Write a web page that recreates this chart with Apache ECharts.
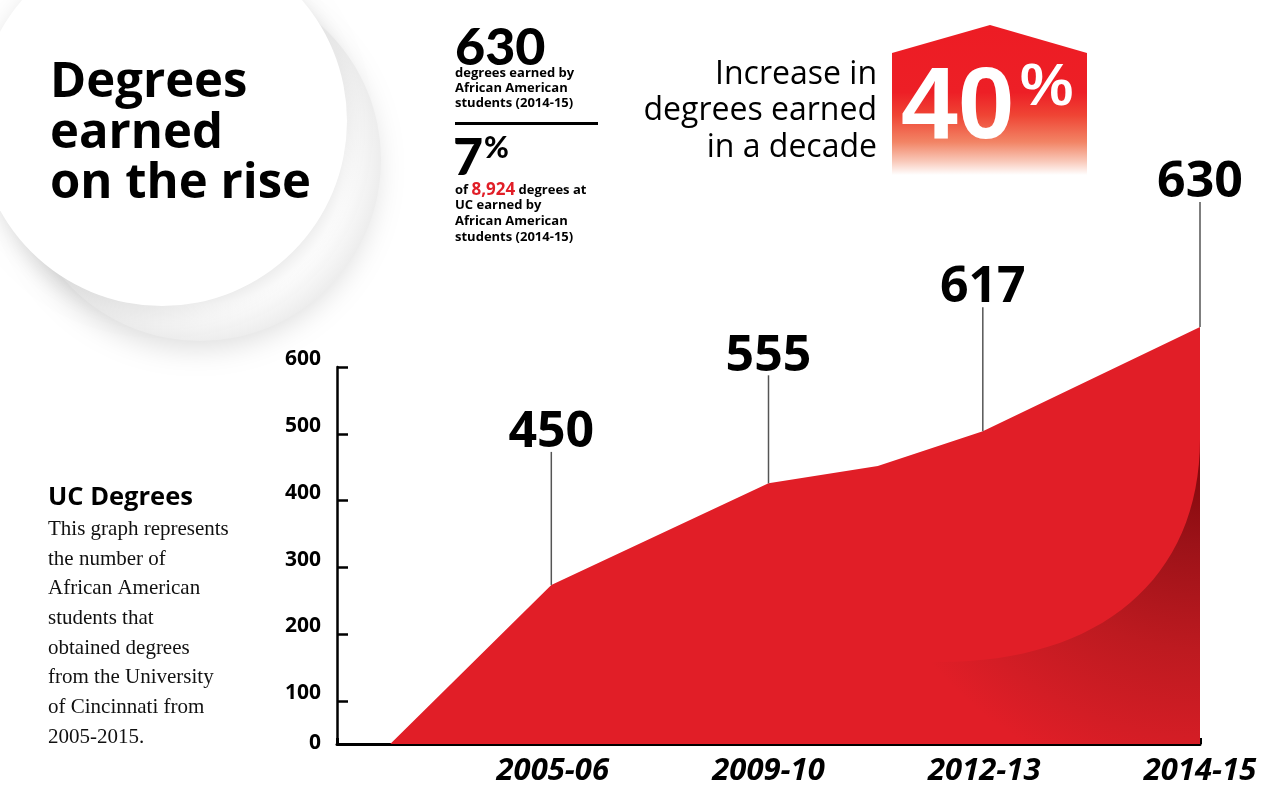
<!DOCTYPE html>
<html><head><meta charset="utf-8">
<script src="https://cdn.jsdelivr.net/npm/echarts@6/dist/echarts.min.js"></script>
<style>html,body{margin:0;padding:0;background:#fff}#c{width:1280px;height:805px}</style>
</head><body><div id="c"></div>
<script>
// ---------------- data ----------------
const yearLabels = ['2005-06', '2009-10', '2012-13', '2014-15'];
const yearPos = [1.5, 3, 4.5, 6];                 // x position of each year label
const areaX = [0.37, 1.49, 3, 3.76, 4.49, 6];     // outline of the red area (x)
const areaY = [36, 274, 426, 452, 504, 660];      // outline of the red area (axis units)
const labeledPoint = [1, 2, 4, 5];                // area vertices carrying a callout
const degreeLabels = [450, 555, 617, 630];        // callout numbers
const yTickValues = [100, 200, 300, 400, 500, 600];
const yLabelValues = [36, 100, 200, 300, 400, 500, 600];
const yLabelText = ['0', '100', '200', '300', '400', '500', '600'];

// ---------------- styles ----------------
const RED = '#E11E27';
const LEADER = [133, 108, 124, 125];
const chart = echarts.init(document.getElementById('c'), null, {renderer: 'canvas'});

const areaData = areaX.map((x, i) => [x, areaY[i]]);
const calloutData = labeledPoint.map((p, k) => [areaX[p], areaY[p], degreeLabels[k]]);

const T = (x, y, text, font, extra) => Object.assign({
  type: 'text', x: x, y: y, z: 10,
  style: Object.assign({text: text, fill: '#000', verticalAlign: 'middle', align: 'left'}, font)
}, extra || {});

const OS = (size, weight) => ({fontFamily: '"Open Sans"', fontSize: size, fontWeight: weight || 700});
const SERIF = {fontFamily: '"Liberation Serif"', fontSize: 21, fill: '#111'};

const option = {
  backgroundColor: '#fff',
  animation: false,
  grid: {left: 337, right: 80, top: 367, bottom: 61, outerBoundsMode: 'none', containLabel: false},
  xAxis: {
    type: 'value', min: 0, max: 6, interval: 1,
    axisLine: {show: true, lineStyle: {color: '#000', width: 3}},
    axisTick: {show: true, inside: true, length: 6, lineStyle: {color: '#000', width: 3}},
    splitLine: {show: false},
    axisLabel: {
      customValues: yearPos,
      formatter: v => yearLabels[yearPos.indexOf(v)] || '',
      color: '#000', fontFamily: '"Open Sans"', fontWeight: 700, fontStyle: 'italic',
      fontSize: 31, margin: 12
    }
  },
  yAxis: {
    type: 'value', min: 36, max: 600,
    axisLine: {show: true, lineStyle: {color: '#000', width: 2.5}},
    axisTick: {show: true, inside: true, length: 11, customValues: yTickValues, lineStyle: {color: '#000', width: 2.5}},
    splitLine: {show: false},
    axisLabel: {
      customValues: yLabelValues,
      formatter: v => {
        const t = yLabelText[yLabelValues.indexOf(v)];
        return v === yLabelValues[0] ? '{z|' + t + '}' : '{n|' + t + '}';
      },
      verticalAlign: 'bottom',
      color: '#000', fontFamily: '"Open Sans"', fontWeight: 700, fontSize: 21, margin: 16,
      rich: {
        n: {lineHeight: 16, color: '#000', fontFamily: '"Open Sans"', fontWeight: 700, fontSize: 21},
        z: {lineHeight: 2, color: '#000', fontFamily: '"Open Sans"', fontWeight: 700, fontSize: 21}
      }
    }
  },
  series: [
    {
      type: 'line', data: areaData, symbol: 'none', clip: false, z: 2,
      lineStyle: {width: 0},
      areaStyle: {color: RED, opacity: 1, origin: 'start'}
    },
    {
      type: 'custom', clip: false, z: 3, silent: true,
      data: [[6, 36]],
      renderItem: function (params, api) {
        const br = api.coord([api.value(0), api.value(1)]);
        const x1 = br[0], yb = br[1];
        const path = 'M' + x1 + ',' + (yb - 305) +
          ' C' + x1 + ',' + (yb - 165) + ' ' + (x1 - 100) + ',' + (yb - 82) + ' ' + (x1 - 260) + ',' + (yb - 82) +
          ' C' + (x1 - 300) + ',' + (yb - 82) + ' ' + (x1 - 340) + ',' + (yb - 60) + ' ' + (x1 - 360) + ',' + yb +
          ' L' + x1 + ',' + yb + ' Z';
        return {
          type: 'path', shape: {pathData: path},
          style: {
            fill: new echarts.graphic.RadialGradient(1, 0, 1.15, [
              {offset: 0, color: '#7A0508'},
              {offset: 0.3, color: '#9C1218'},
              {offset: 0.6, color: '#BD1A20'},
              {offset: 0.85, color: '#D31D25'},
              {offset: 1, color: RED}
            ])
          }
        };
      }
    },
    {
      type: 'custom', clip: false, z: 4, silent: true,
      data: calloutData,
      renderItem: function (params, api) {
        const p = api.coord([api.value(0), api.value(1)]);
        const len = LEADER[params.dataIndex];
        const top = p[1] - len;
        return {
          type: 'group',
          children: [
            {type: 'line', shape: {x1: p[0], y1: p[1], x2: p[0], y2: top},
              style: {stroke: '#555', lineWidth: 1.5}},
            {type: 'text', x: p[0], y: top - 19,
              style: {text: String(api.value(2)), fill: '#000', align: 'center', verticalAlign: 'middle',
                fontFamily: '"Open Sans"', fontWeight: 700, fontSize: 50}}
          ]
        };
      }
    }
  ],
  graphic: {elements: [
    // background discs
    {type: 'circle', z: -5, shape: {cx: 200, cy: 160, r: 181},
      style: {
        fill: new echarts.graphic.RadialGradient(0.5, 0.5, 0.5, [
          {offset: 0, color: '#fff'}, {offset: 0.8, color: '#fff'}, {offset: 1, color: '#EDEDED'}]),
        shadowBlur: 28, shadowColor: 'rgba(0,0,0,0.13)', shadowOffsetX: -4, shadowOffsetY: 8}},
    {type: 'circle', z: -4, shape: {cx: 162, cy: 121, r: 185},
      style: {fill: '#fff', shadowBlur: 22, shadowColor: 'rgba(0,0,0,0.10)', shadowOffsetX: 0, shadowOffsetY: 6}},
    // title
    T(50, 83, 'Degrees', OS(49)),
    T(50, 134, 'earned', OS(49)),
    T(50, 184, 'on the rise', OS(49)),
    // 630 block
    T(455, 48, '630', {fontFamily: 'Lato', fontWeight: 900, fontSize: 52}),
    T(455, 73, 'degrees earned by', OS(13)),
    T(455, 88, 'African American', OS(13)),
    T(455, 103, 'students (2014-15)', OS(13)),
    {type: 'rect', z: 10, shape: {x: 455, y: 122, width: 143, height: 3}, style: {fill: '#000'}},
    T(453, 158, '7', {fontFamily: 'Lato', fontWeight: 900, fontSize: 52}),
    T(484, 148, '%', {fontFamily: 'Lato', fontWeight: 900, fontSize: 30}),
    {type: 'text', x: 455, y: 190, z: 10, style: {
      text: '{a|of }{b|8,924}{a| degrees at}', verticalAlign: 'middle', align: 'left',
      rich: {a: {fontFamily: '"Open Sans"', fontWeight: 700, fontSize: 13, fill: '#000'},
             b: {fontFamily: '"Open Sans"', fontWeight: 700, fontSize: 17, fill: RED}}}},
    T(455, 205, 'UC earned by', OS(13)),
    T(455, 221, 'African American', OS(13)),
    T(455, 237, 'students (2014-15)', OS(13)),
    // increase text
    T(877, 75, 'Increase in', Object.assign(OS(32, 400), {align: 'right'})),
    T(877, 111, 'degrees earned', Object.assign(OS(32, 400), {align: 'right'})),
    T(877, 148, 'in a decade', Object.assign(OS(32, 400), {align: 'right'})),
    // 40% badge
    {type: 'polygon', z: 8, shape: {points: [[892, 53], [990, 25], [1087, 53], [1087, 175], [892, 175]]},
      style: {fill: new echarts.graphic.LinearGradient(0, 0, 0, 1, [
        {offset: 0, color: '#ED1C24'}, {offset: 0.45, color: '#ED1F26'}, {offset: 0.6, color: '#EF4434'},
        {offset: 0.78, color: '#F28465'}, {offset: 0.91, color: '#F9C9BA'}, {offset: 1, color: '#FFFFFF'}])}},
    T(901, 110, '40', {fontFamily: '"Liberation Sans"', fontWeight: 700, fontSize: 102, fill: '#fff'}),
    T(1020, 88, '%', {fontFamily: '"Liberation Sans"', fontWeight: 700, fontSize: 60, fill: '#fff'}),
    // side note
    T(48, 498, 'UC Degrees', OS(25.5)),
    T(48, 529, 'This graph represents', SERIF),
    T(48, 559, 'the number of', SERIF),
    T(48, 588, 'African American', SERIF),
    T(48, 618, 'students that', SERIF),
    T(48, 648, 'obtained degrees', SERIF),
    T(48, 677, 'from the University', SERIF),
    T(48, 707, 'of Cincinnati from', SERIF),
    T(48, 737, '2005-2015.', SERIF)
  ]}
};
chart.setOption(option);
</script>
</body></html>
